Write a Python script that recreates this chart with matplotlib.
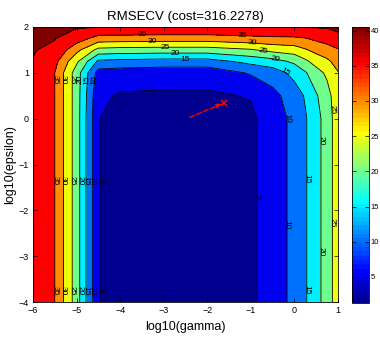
import numpy as np
import matplotlib
matplotlib.use("Agg")
import matplotlib.pyplot as plt
from matplotlib.colors import ListedColormap, Normalize
from matplotlib.cm import ScalarMappable

plt.rcParams['font.family'] = ['Liberation Sans', 'DejaVu Sans']

# ---- data ----
log_gamma = [-6, -5.5, -5, -4.5, -4, -3, -2, -1, -0.5, 0, 0.25, 0.5, 0.75, 1]
log_epsilon = [-4, 0, 0.5, 1.0, 1.25, 1.5, 1.75, 2.0]
rmsecv_row_m4 = [38.5, 35.0, 22.5, 5.2, 2.5, 1.5, 1.3, 4.0, 7.57, 11.25, 14.5, 18.3, 22.2, 28.0]
rmsecv_row_0 = [38.5, 35.0, 22.5, 5.2, 2.5, 1.6, 1.5, 4.0, 7.57, 11.25, 14.5, 18.3, 22.2, 28.0]
rmsecv_row_05 = [38.5, 35.0, 22.5, 6.0, 4.5, 4.3, 4.3, 5.3, 8.5, 12.5, 15.5, 19.5, 23.0, 28.5]
rmsecv_row_1 = [38.5, 35.0, 22.5, 8.0, 7.5, 7.0, 7.0, 10.5, 12.5, 16.5, 19.5, 23.0, 26.0, 29.7]
rmsecv_row_125 = [39.8, 36.5, 26.0, 14.0, 13.5, 13.0, 13.0, 16.5, 18.0, 21.0, 24.0, 27.0, 29.0, 32.0]
rmsecv_row_15 = [40.2, 39.2, 31.5, 23.5, 23.0, 22.7, 22.7, 24.5, 26.5, 27.5, 29.5, 31.5, 33.0, 34.5]
rmsecv_row_175 = [40.4, 40.15, 37.5, 33.0, 32.8, 32.5, 32.5, 33.5, 34.0, 34.2, 34.8, 36.0, 37.0, 39.5]
rmsecv_row_2 = [40.5, 40.4, 40.35, 40.3, 40.3, 40.3, 40.3, 40.3, 40.3, 40.3, 40.3, 40.3, 40.35, 40.4]
contour_levels = [5, 10, 15, 20, 25, 30, 35, 40]
colorbar_ticks = [5, 10, 15, 20, 25, 30, 35, 40]
best_point = (-1.62, 0.34)
arrow_start = (-2.4, 0.03)
title_text = "RMSECV (cost=316.2278)"

Z = np.array([rmsecv_row_m4, rmsecv_row_0, rmsecv_row_05, rmsecv_row_1,
              rmsecv_row_125, rmsecv_row_15, rmsecv_row_175, rmsecv_row_2])
X, Y = np.meshgrid(log_gamma, log_epsilon)


def matlab_jet(m=64):
    n = int(np.ceil(m / 4))
    u = np.concatenate([np.arange(1, n + 1) / n, np.ones(n - 1), np.arange(n, 0, -1) / n])
    g = int(np.ceil(n / 2)) - (1 if m % 4 == 1 else 0) + np.arange(1, len(u) + 1)
    r = g + n
    b = g - n
    J = np.zeros((m, 3))
    for col, idx in ((0, r), (1, g), (2, b)):
        mask = (idx >= 1) & (idx <= m)
        J[idx[mask] - 1, col] = u[mask]
    return J


J = matlab_jet(64)
cmap = ListedColormap(J)
zmin, zmax = Z.min(), Z.max()


def band_color(v):
    i = int(np.floor((v - zmin) / (zmax - zmin) * 64))
    i = min(max(i, 0), 63)
    return J[i]


fill_levels = [zmin - 1] + contour_levels + [zmax + 1]
fill_colors = [band_color(zmin)] + [band_color(L) for L in contour_levels]

fig = plt.figure(figsize=(3.8, 3.39), dpi=100)
ax = fig.add_axes([33 / 380, 37 / 339, 305 / 380, 275 / 339])
ax.contourf(X, Y, Z, levels=fill_levels, colors=fill_colors)
cs = ax.contour(X, Y, Z, levels=contour_levels, colors='k', linewidths=0.6)

label_pos = [
    (-5.5, -1.35), (-5.31, -1.35), (-5.1, -1.35), (-4.93, -1.35), (-4.78, -1.35), (-4.64, -1.35), (-4.46, -1.35),
    (-5.5, -3.75), (-5.31, -3.75), (-5.1, -3.75), (-4.93, -3.75), (-4.78, -3.75), (-4.64, -3.75), (-4.46, -3.75),
    (-5.5, 0.85), (-5.31, 0.85), (-5.1, 0.85), (-4.93, 0.85), (-4.78, 0.85), (-4.6, 0.85),
    (-3.48, 1.83), (-3.25, 1.67), (-2.97, 1.54), (-2.74, 1.39), (-2.51, 1.24),
    (-1.2, 1.78), (-0.97, 1.61), (-0.72, 1.45), (-0.45, 1.25), (-0.22, 1.0), (0.59, 1.93),
    (-5.97, 1.3),
    (0.86, 0.19), (0.86, -2.26), (0.61, -0.47), (0.61, -2.91), (0.28, -1.3), (0.28, -3.74),
    (-0.17, 0.0), (-0.17, -2.32), (-0.86, -1.7),
]
ax.clabel(cs, fmt='%d', fontsize=6, inline=False, manual=label_pos, colors='k')

ax.annotate('', xy=(best_point[0] - 0.05, best_point[1] - 0.02), xytext=arrow_start,
            arrowprops=dict(arrowstyle='-|>', color='red', lw=1.0, ls='--',
                            mutation_scale=7, shrinkA=0, shrinkB=0))
ax.plot([best_point[0]], [best_point[1]], marker='x', color='red', markersize=5, mew=1.2)

ax.set_xlim(-6, 1)
ax.set_ylim(-4, 2)
ax.set_xticks(range(-6, 2))
ax.set_yticks(range(-4, 3))
ax.tick_params(direction='in', length=3, width=0.5, labelsize=6.5, top=True, right=True, pad=3)
for s in ax.spines.values():
    s.set_linewidth(0.6)
ax.set_title(title_text, fontsize=9.5, pad=5)
ax.set_xlabel('log10(gamma)', fontsize=9, labelpad=4)
ax.set_ylabel('log10(epsilon)', fontsize=9, labelpad=2)

cax = fig.add_axes([352 / 380, 36 / 339, 17 / 380, 276 / 339])
sm = ScalarMappable(norm=Normalize(zmin, zmax), cmap=cmap)
cb = fig.colorbar(sm, cax=cax, ticks=colorbar_ticks)
cb.outline.set_linewidth(0.6)
cax.tick_params(direction='in', length=3, width=0.5, labelsize=5.5, left=True, right=True, pad=1)

fig.savefig('out.png', dpi=100)
